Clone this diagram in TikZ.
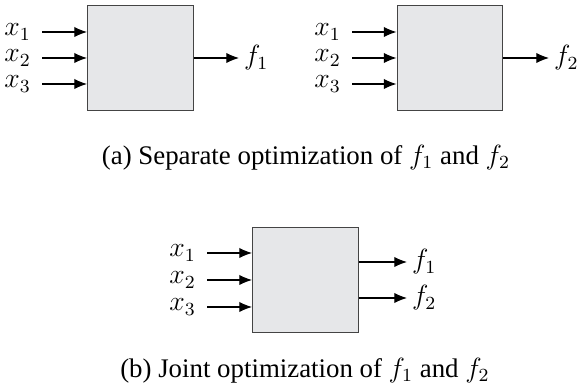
\documentclass[tikz,border=0pt]{standalone}
\usepackage{fontspec}
\setmainfont{Liberation Serif}
\usetikzlibrary{arrows.meta}
\definecolor{boxfill}{HTML}{E6E7E9}
\definecolor{boxline}{HTML}{444444}
\begin{document}
\begin{tikzpicture}[
    x=0.432pt, y=-0.432pt,
    blk/.style={draw=boxline, fill=boxfill, line width=0.6pt, minimum size=45.6pt, inner sep=0pt},
    io/.style={font=\fontsize{11.5}{14}\selectfont, inner sep=2pt},
    sig/.style={-{Latex[length=5.5pt, width=4.5pt]}, line width=0.5pt},
    captxt/.style={font=\fontsize{11.6}{14}\selectfont},
  ]
    \useasboundingbox (0,0) rectangle (578,390);

    %% --- (a) separate: two blocks ---
    \node[blk] (blkA) at (140.5, 58) {};
    \node[blk] (blkB) at (450, 58) {};

    \foreach \i/\dy in {1/-26, 2/0, 3/26} {
      \node[io, anchor=east, xshift=-2.6pt] (inA\i) at (42, 58+\dy) {$x_{\i}$};
      \draw[sig] ([xshift=2.6pt]inA\i.east) -- (inA\i.east -| blkA.west);
      \node[io, anchor=east, xshift=-2.6pt] (inB\i) at (352, 58+\dy) {$x_{\i}$};
      \draw[sig] ([xshift=2.6pt]inB\i.east) -- (inB\i.east -| blkB.west);
    }
    \node[io, anchor=west] (outA) at (239, 58) {$f_1$};
    \draw[sig] (blkA.east) -- (outA.west);
    \node[io, anchor=west] (outB) at (549, 58) {$f_2$};
    \draw[sig] (blkB.east) -- (outB.west);

    \node[captxt] (capA) at (306, 158) {(a) Separate optimization of $f_1$ and $f_2$};

    %% --- (b) joint: one block, two outputs ---
    \node[blk] (blkC) at (305.5, 280) {};
    \foreach \i/\dy in {1/-27, 2/0, 3/27} {
      \node[io, anchor=east, xshift=-2.6pt] (inC\i) at (207, 280+\dy) {$x_{\i}$};
      \draw[sig] ([xshift=2.6pt]inC\i.east) -- (inC\i.east -| blkC.west);
    }
    \foreach \i/\dy in {1/-18, 2/18} {
      \node[io, anchor=west] (outC\i) at (407, 280+\dy) {$f_{\i}$};
      \draw[sig] (outC\i.west -| blkC.east) -- (outC\i.west);
    }

    \node[captxt] (capB) at (305, 371) {(b) Joint optimization of $f_1$ and $f_2$};
\end{tikzpicture}
\end{document}
